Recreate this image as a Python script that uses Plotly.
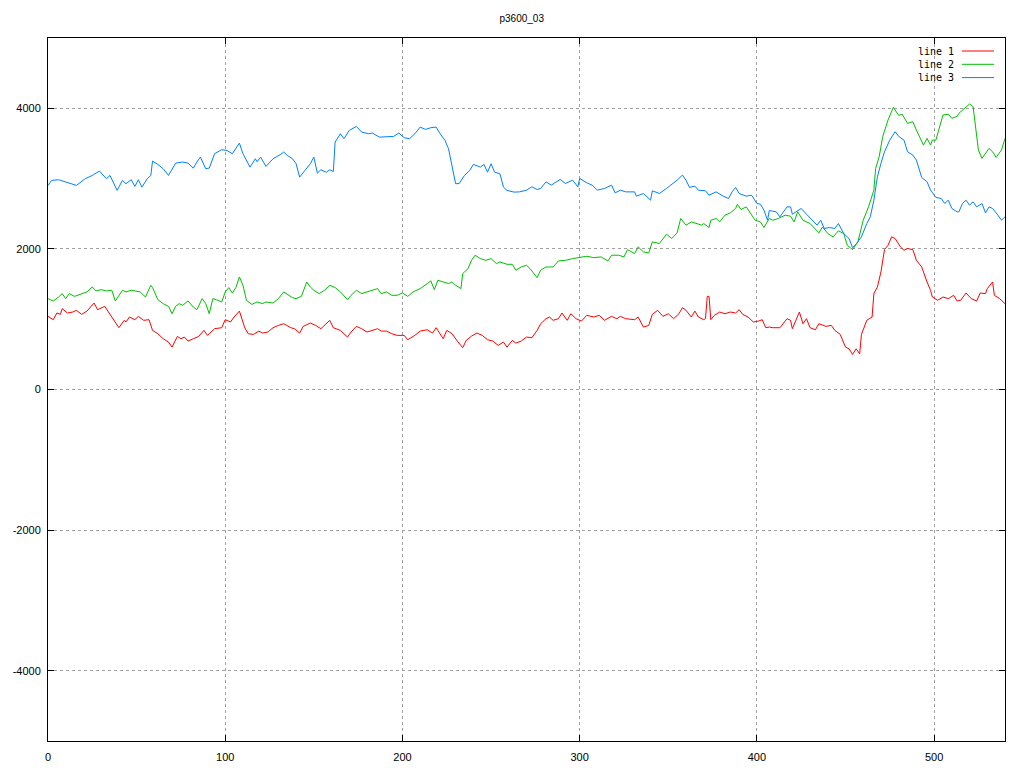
import plotly.graph_objects as go

TITLE = "p3600_03"
SERIES_NAMES = ["line 1", "line 2", "line 3"]
SERIES_COLORS = ["#ff0000", "#00c000", "#0080ff"]

X_TICKS = [0, 100, 200, 300, 400, 500]
X_TICK_LABELS = ["0", "100", "200", "300", "400", "500"]
Y_TICKS = [-4000, -2000, 0, 2000, 4000]
Y_TICK_LABELS = ["-4000", "-2000", "0", "2000", "4000"]

# line 1 (red)
x1 = [0,3,5,7,8,11,14,16,19,22,26,28,32,35,38,40,43,44,46,49,51,54,57,59,62,65,68,70,73,75,77,79,82,85,88,90,91,94,98,100,
      103,105,108,111,113,116,119,121,124,127,130,133,137,139,142,144,148,151,154,156,159,161,165,169,171,174,177,180,183,186,
      188,191,194,197,201,203,207,210,214,217,219,221,223,225,228,231,234,236,239,242,245,248,251,254,257,259,262,264,267,270,
      273,276,278,281,283,285,288,290,293,295,298,301,304,308,311,314,318,321,323,326,331,333,336,339,341,344,347,350,353,356,
      358,360,363,365,367,370,371,372,373,374,376,379,382,385,388,390,392,395,398,401,403,405,407,409,413,417,419,420,422,424,
      426,428,430,433,435,439,442,444,447,450,452,454,456,458,459,462,465,466,468,470,472,474,476,478,481,483,485,488,490,493,
      496,498,499,502,505,508,511,513,515,518,521,524,526,529,530,533,534,537,540]
y1 = [1040,993,1088,1069,1150,1088,1102,1126,1069,1116,1230,1135,1183,1069,936,879,984,960,1031,993,1040,984,993,841,793,722,675,603,755,722,746,689,722,755,841,770,793,865,879,993,
      960,1031,1116,879,793,784,831,803,817,879,912,936,879,865,803,898,946,912,865,912,984,879,841,746,817,898,865,817,841,865,
      831,831,793,770,770,708,770,831,850,803,879,793,722,841,793,689,594,698,760,803,770,708,689,627,675,603,698,660,689,746,
      736,841,936,1007,1031,984,1007,1088,984,1078,1007,974,1055,1031,1055,984,1040,1007,1040,1007,993,1031,888,912,1069,1126,1040,1078,1007,1078,
      1164,1126,1031,1116,1031,993,1010,1325,1325,993,1055,1102,1078,1102,1088,1135,1069,1031,960,974,993,879,888,879,879,1007,984,865,984,1102,
      936,1007,879,850,936,898,912,841,784,603,579,499,579,508,784,984,1031,1364,1459,1672,1990,2052,2171,2148,2029,1981,2005,1990,1838,1743,
      1530,1411,1316,1269,1316,1292,1340,1259,1269,1373,1292,1259,1373,1364,1435,1530,1340,1292,1221]

# line 2 (green)
x2 = [0,3,6,8,10,12,15,19,22,25,27,30,33,36,38,42,44,47,50,52,55,58,59,62,65,68,70,72,74,76,79,82,84,87,89,91,93,95,98,100,
      102,104,106,108,110,112,115,118,121,123,127,130,133,136,138,140,143,146,148,150,153,156,159,162,165,169,171,174,177,180,
      183,186,188,191,194,197,200,203,206,210,214,216,218,220,223,226,228,230,233,234,237,239,241,244,247,250,253,255,259,262,
      264,267,270,272,276,278,281,285,288,292,296,300,304,308,312,316,318,322,325,327,331,333,336,339,341,345,349,352,355,357,
      360,363,366,369,370,373,374,377,379,382,385,388,389,391,394,396,399,402,404,407,409,412,416,419,421,423,426,430,435,437,
      440,443,446,449,451,454,457,460,463,466,467,469,471,474,477,480,482,485,488,490,492,494,496,498,499,501,505,508,510,513,
      514,517,520,522,525,527,529,531,533,535,538,540]
y2 = [1292,1259,1316,1364,1292,1364,1325,1364,1388,1459,1402,1420,1402,1411,1259,1411,1388,1411,1402,1388,1316,1482,1450,1278,1221,1183,1078,1183,1221,1197,1259,1173,1135,1292,1221,1078,1292,1278,1245,1387,
      1450,1373,1450,1601,1482,1268,1211,1245,1221,1245,1230,1292,1388,1340,1306,1292,1325,1530,1459,1411,1364,1411,1483,1450,1388,1278,1340,1411,1364,1388,
      1411,1435,1364,1388,1340,1340,1373,1325,1388,1435,1506,1545,1420,1554,1530,1506,1530,1483,1435,1649,1719,1838,1910,1862,1838,1862,1791,1815,1781,1781,
      1696,1743,1767,1719,1591,1696,1743,1743,1829,1838,1862,1876,1895,1876,1886,1829,1910,1910,1886,1990,1933,2029,1957,1943,2100,2076,2209,2148,2228,2432,
      2337,2384,2361,2337,2361,2304,2408,2432,2384,2480,2512,2575,2636,2560,2598,2527,2408,2384,2304,2432,2408,2432,2480,2465,2384,2527,2408,2361,2228,2313,
      2219,2171,2257,2219,2052,1990,2100,2408,2598,2836,3145,3311,3596,3833,4014,3900,3915,3786,3810,3690,3572,3476,3572,3476,3548,3548,3905,3915,3857,3886,
      3929,4000,4061,4024,3406,3287,3358,3430,3382,3302,3406,3572]

# line 3 (blue)
x3 = [0,2,6,12,16,21,25,29,33,35,39,42,44,47,49,51,53,56,58,59,62,65,68,72,76,79,82,84,86,89,91,94,98,101,104,108,110,114,117,118,
      120,123,127,131,133,135,138,140,142,145,148,150,152,154,157,159,161,162,165,167,170,174,177,181,183,187,191,195,198,201,
      204,207,210,213,216,219,221,224,226,228,230,232,235,238,240,244,246,248,250,252,255,257,259,263,266,270,273,276,278,281,
      284,286,289,292,296,299,300,304,307,310,314,318,320,323,326,331,332,336,340,341,345,349,353,355,358,360,362,365,367,371,
      373,377,381,384,386,388,390,394,397,400,402,404,406,407,411,413,417,419,420,425,428,432,434,436,438,441,444,446,449,452,
      454,456,459,462,464,466,468,470,472,475,478,480,482,483,485,488,490,493,496,498,501,504,506,508,510,513,514,516,518,520,
      522,524,527,529,531,533,536,538,540]
y3 = [2903,2974,2984,2936,2903,2998,3045,3107,2998,3045,2832,2974,2927,2984,2889,2984,2879,2998,3045,3249,3202,3140,3045,3220,3235,3220,3149,3235,3306,3140,3150,3354,3411,3400,3354,3505,3354,3163,3282,3240,
      3306,3173,3282,3340,3377,3330,3282,3211,3021,3116,3211,3306,3078,3126,3090,3126,3100,3519,3638,3567,3686,3742,3662,3638,3648,3590,3600,3600,3648,3582,
      3567,3638,3733,3700,3724,3733,3648,3544,3425,3163,2927,2930,3045,3116,3202,3163,3202,3092,3211,3092,3069,2879,2832,2808,2811,2835,2883,2845,2860,2954,
      2907,2940,2988,2930,2978,2883,3002,2940,2907,2836,2860,2907,2797,2835,2811,2811,2750,2788,2693,2826,2788,2860,2930,2978,3050,2978,2874,2893,2835,2826,
      2764,2811,2750,2717,2811,2874,2788,2750,2764,2646,2636,2551,2408,2546,2527,2456,2598,2598,2494,2575,2494,2399,2337,2408,2290,2304,2290,2361,2219,2148,
      2019,2067,2171,2361,2456,2693,3025,3216,3382,3548,3667,3600,3558,3548,3382,3335,3263,3016,2955,2836,2732,2717,2646,2693,2575,2527,2527,2646,2693,2622,
      2670,2598,2646,2512,2598,2575,2480,2408,2456]

XS = [x1, x2, x3]
YS = [y1, y2, y3]

fig = go.Figure()
for name, color, xs, ys in zip(SERIES_NAMES, SERIES_COLORS, XS, YS):
    fig.add_trace(go.Scatter(x=xs, y=ys, mode="lines", name=name,
                             line=dict(color=color, width=1), showlegend=False,
                             hoverinfo="skip"))

W, H = 1024, 768
L, R, T, B = 48, 19, 38, 27
pw, ph = W - L - R, H - T - B

def px_to_paper(px, py):
    return (px - L) / pw, (H - B - py) / ph

# gnuplot-style legend: text on the left, sample line on the right
for i, (name, color) in enumerate(zip(SERIES_NAMES, SERIES_COLORS)):
    py = 51 + i * 13.3
    tx, ty = px_to_paper(956, py)
    fig.add_annotation(x=tx, y=ty, xref="paper", yref="paper", text=name,
                       showarrow=False, xanchor="right", yanchor="middle",
                       font=dict(family="DejaVu Sans Mono", size=10, color="black"))
    x0p, y0p = px_to_paper(962, py)
    x1p, _ = px_to_paper(994, py)
    fig.add_shape(type="line", xref="paper", yref="paper", x0=x0p, x1=x1p,
                  y0=y0p, y1=y0p, line=dict(color=color, width=1))

axis_common = dict(showline=True, linecolor="black", linewidth=1, mirror="ticks",
                   ticks="inside", ticklen=6, tickcolor="black", showgrid=True,
                   gridcolor="#a0a0a0", griddash="dot", gridwidth=1, zeroline=False,
                   automargin=False,
                   tickfont=dict(family="Liberation Sans", size=11, color="black"))

fig.update_layout(
    width=W, height=H,
    margin=dict(l=L, r=R, t=T, b=B, pad=0, autoexpand=False),
    paper_bgcolor="white", plot_bgcolor="white",
    title=dict(text=TITLE, x=0.495, xref="paper", xanchor="center",
               y=1 - 18 / H, yref="container", yanchor="middle",
               font=dict(family="Liberation Sans", size=10, color="black")),
    xaxis=dict(range=[0, 540], tickvals=X_TICKS, ticktext=X_TICK_LABELS,
               ticklabelstandoff=6, **axis_common),
    yaxis=dict(range=[-5000, 5000], tickvals=Y_TICKS, ticktext=Y_TICK_LABELS,
               ticklabelstandoff=4, **axis_common),
    showlegend=False,
)

fig.write_html("out.html", config={"displayModeBar": False},
               post_script="document.body.style.margin='0';document.body.style.overflow='hidden';")
